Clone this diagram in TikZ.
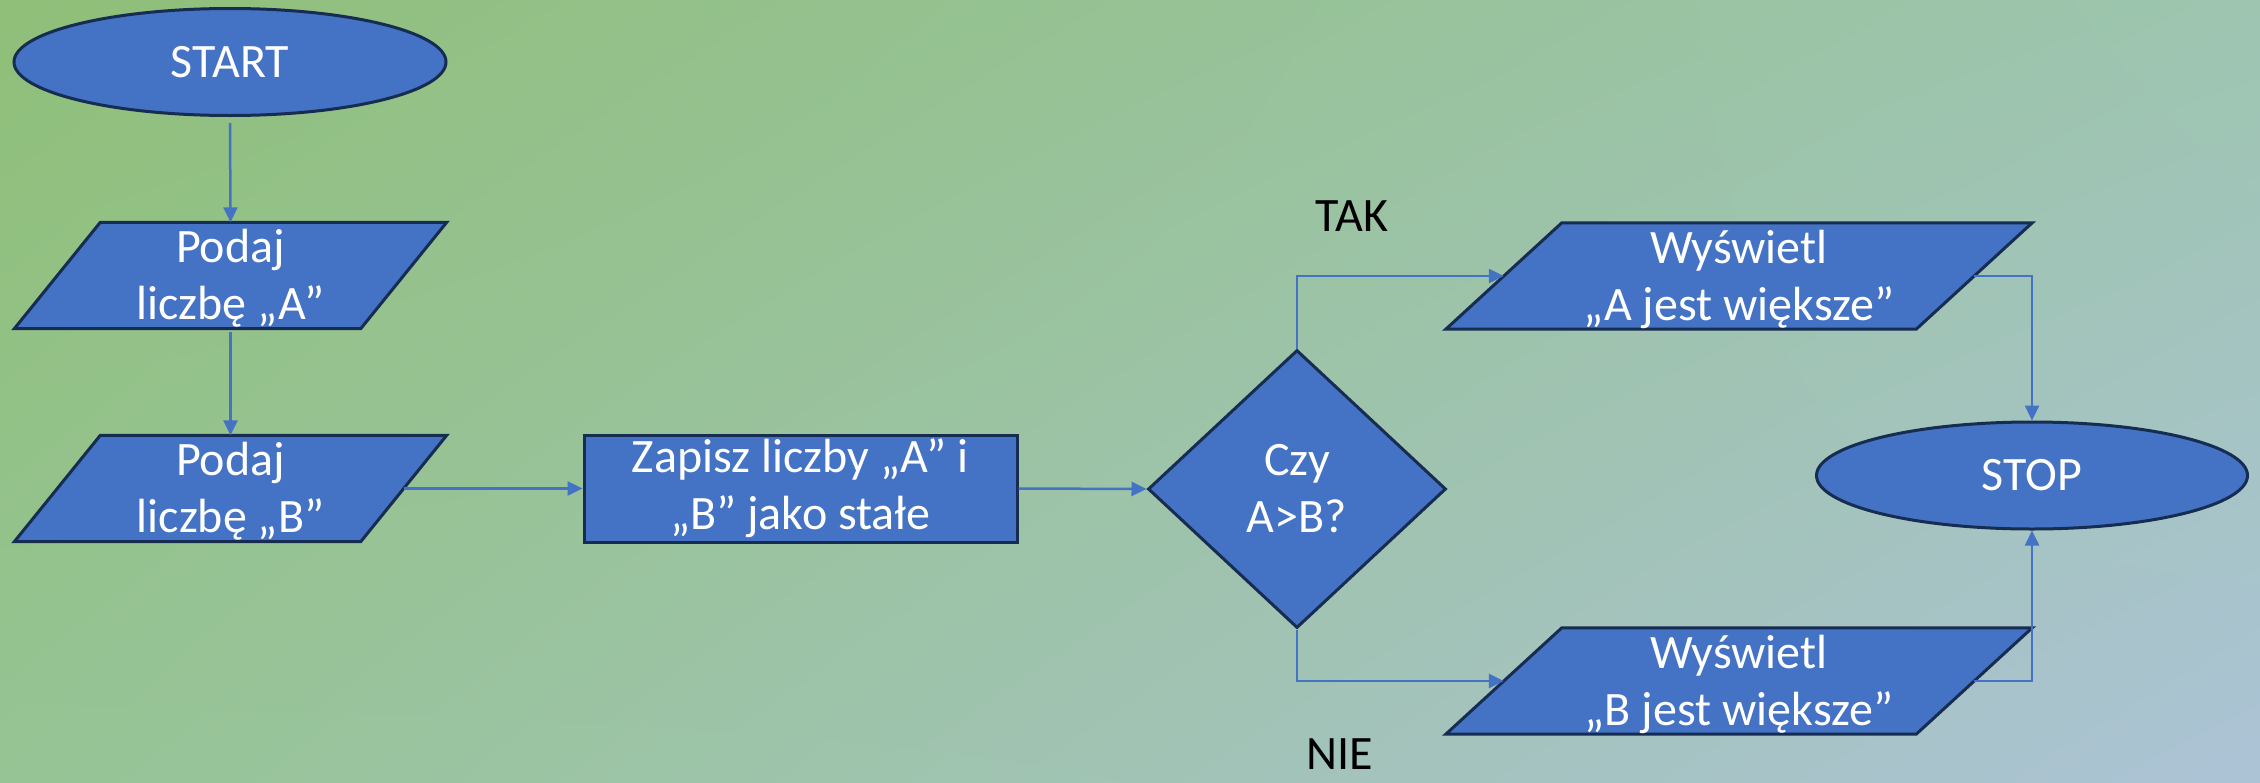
\documentclass[tikz,border=0pt]{standalone}
\usepackage{fontspec}
\setmainfont{Carlito}
\usetikzlibrary{shapes.geometric,arrows.meta,calc,shadings}
\definecolor{bgTL}{RGB}{143,191,120}
\definecolor{bgTR}{RGB}{157,197,176}
\definecolor{bgBL}{RGB}{150,196,148}
\definecolor{bgBR}{RGB}{172,195,214}
\definecolor{boxfill}{RGB}{68,114,196}
\definecolor{boxline}{RGB}{23,44,81}
\definecolor{conn}{RGB}{68,114,196}
\tikzset{
  txt/.style={text=white,font=\fontsize{48}{57}\selectfont,align=center,inner sep=0pt},
  term/.style={txt,ellipse,draw=boxline,fill=boxfill,line width=3pt,minimum width=432pt,minimum height=107pt},
  procbox/.style={txt,rectangle,draw=boxline,fill=boxfill,line width=3pt,minimum width=433pt,minimum height=107pt},
  decision/.style={txt,diamond,draw=boxline,fill=boxfill,line width=3pt,minimum width=298pt,minimum height=278pt},
  iobox/.style={txt,rectangle,minimum height=106pt},
  iopara/.style={draw=boxline,fill=boxfill,line width=3pt,line join=miter},
  lbl/.style={text=black,font=\fontsize{48}{57}\selectfont,inner sep=0pt},
  conn/.style={draw=conn,line width=2.5pt,-{Triangle[length=15pt,width=14pt]}},
}
\newcommand\drawpara[2]{%
  \draw[iopara] ([xshift=-#2]#1.south west) -- ([xshift=#2]#1.north west) -- ([xshift=#2]#1.north east) -- ([xshift=-#2]#1.south east) -- cycle;}
\begin{document}
\begin{tikzpicture}[x=1pt,y=-1pt]
\shade[upper left=bgTL,upper right=bgTR,lower left=bgBL,lower right=bgBR] (0,0) rectangle (2260,782);
\useasboundingbox (0,0) rectangle (2260,782);
% nodes
\node[term] (start) at (230,62) {START};
\node[iobox,minimum width=346pt] (pA) at (230.5,275.5) {};
\drawpara{pA}{43pt}
\node[txt] at ([yshift=-3pt]pA) {Podaj\\liczbę „A”};
\node[iobox,minimum width=346pt] (pB) at (230.5,488.5) {};
\drawpara{pB}{43pt}
\node[txt] at ([yshift=-3pt]pB) {Podaj\\liczbę „B”};
\node[procbox] (zap) at (800.5,488.5) {Zapisz liczby „A” i\\„B” jako stałe};
\node[decision] (czy) at (1297,489) {Czy\\A>B?};
\node[iobox,minimum width=470pt] (wA) at (1739,276) {};
\drawpara{wA}{58pt}
\node[txt] at ([yshift=-3pt]wA) {Wyświetl\\„A jest większe”};
\node[iobox,minimum width=470pt] (wB) at (1739,681) {};
\drawpara{wB}{58pt}
\node[txt] at ([yshift=-3pt]wB) {Wyświetl\\„B jest większe”};
\node[term,minimum width=431pt] (stop) at (2032,475.5) {STOP};
\node[lbl] (tak) at (1352,216) {TAK};
\node[lbl] (nie) at (1340,754) {NIE};
% connectors
\draw[conn,shorten <=6pt] (start.south) -- (pA.north);
\draw[conn,shorten <=3pt] (pA.south) -- (pB.north);
\draw[conn] (pB.east) -- (zap.west);
\draw[conn] (zap.east) -- (czy.west);
\draw[conn] (czy.north) |- (wA.west);
\draw[conn] (czy.south) |- (wB.west);
\draw[conn] (wA.east) -| (stop.north);
\draw[conn] (wB.east) -| (stop.south);
\end{tikzpicture}
\end{document}
